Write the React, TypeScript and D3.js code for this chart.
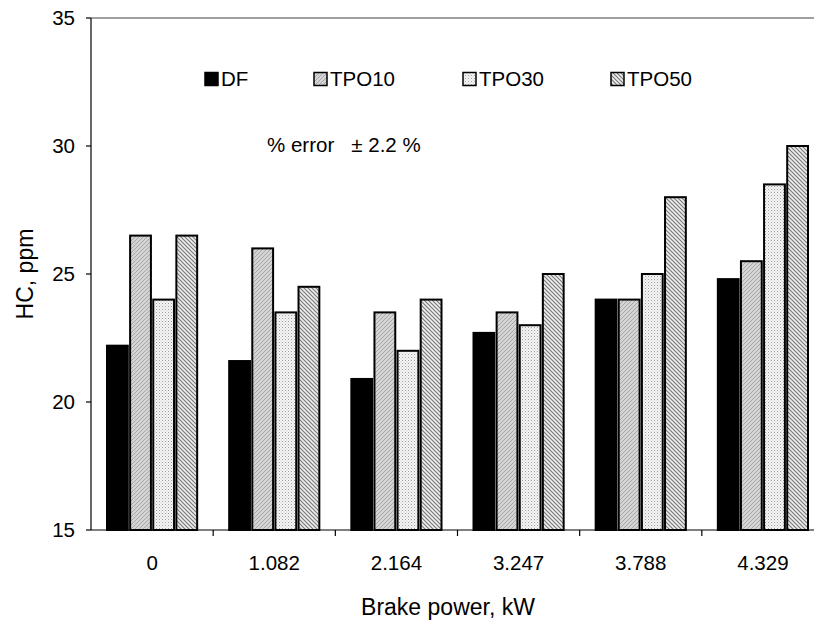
import React from "react";
import * as d3 from "d3";

const categories = ["0", "1.082", "2.164", "3.247", "3.788", "4.329"];
const seriesNames = ["DF", "TPO10", "TPO30", "TPO50"];
const DF = [22.2, 21.6, 20.9, 22.7, 24.0, 24.8];
const TPO10 = [26.5, 26.0, 23.5, 23.5, 24.0, 25.5];
const TPO30 = [24.0, 23.5, 22.0, 23.0, 25.0, 28.5];
const TPO50 = [26.5, 24.5, 24.0, 25.0, 28.0, 30.0];
const yTicks = [15, 20, 25, 30, 35];

const series = [DF, TPO10, TPO30, TPO50];
const fills = ["#000", "url(#pTPO10)", "url(#pTPO30)", "url(#pTPO50)"];

export default function App() {
  const W = 814, H = 623;
  const left = 91, right = 824, top = 18, bottom = 530;
  const x = d3.scaleBand<string>().domain(categories).range([left, right]).padding(0);
  const inner = d3.scaleBand<string>().domain(seriesNames).range([16, x.bandwidth() - 16]).paddingInner(0.1);
  const y = d3.scaleLinear().domain([15, 35]).range([bottom, top]);
  const font = "Arial, 'Liberation Sans', sans-serif";
  const legendX = [205, 314, 463, 611];
  return (
    <svg width={W} height={H} style={{ position: "absolute", left: 0, top: 0 }} fontFamily={font}>
      <defs>
        <pattern id="pTPO10" width="4" height="4" patternUnits="userSpaceOnUse">
          <rect width="4" height="4" fill="#d4d4d4" />
          <path d="M0,4 L4,0 M-1,1 L1,-1 M3,5 L5,3" stroke="#a8a8a8" strokeWidth="1" />
        </pattern>
        <pattern id="pTPO30" width="3" height="3" patternUnits="userSpaceOnUse">
          <rect width="3" height="3" fill="#f4f4f4" />
          <rect x="0" y="0" width="1" height="1" fill="#a0a0a0" />
          <rect x="1.5" y="1.5" width="1" height="1" fill="#c8c8c8" />
        </pattern>
        <pattern id="pTPO50" width="4" height="4" patternUnits="userSpaceOnUse">
          <rect width="4" height="4" fill="#eeeeee" />
          <path d="M0,0 L4,4 M-1,3 L1,5 M3,-1 L5,1" stroke="#7a7a7a" strokeWidth="1.2" />
        </pattern>
      </defs>
      <rect width={W} height={H} fill="#fff" />
      <line x1={left} x2={W} y1={top} y2={top} stroke="#808080" strokeWidth={1.5} />
      {categories.map((c, i) =>
        series.map((s, j) => (
          <rect
            key={c + j}
            x={(x(c) as number) + (inner(seriesNames[j]) as number)}
            y={y(s[i])}
            width={inner.bandwidth()}
            height={bottom - y(s[i])}
            fill={fills[j]}
            stroke="#000"
            strokeWidth={2}
          />
        ))
      )}
      <line x1={left} x2={left} y1={top} y2={bottom} stroke="#000" strokeWidth={1.2} />
      <line x1={left} x2={W} y1={bottom} y2={bottom} stroke="#000" strokeWidth={1.2} />
      {yTicks.map((t) => (
        <g key={t}>
          <line x1={left - 5} x2={left} y1={y(t)} y2={y(t)} stroke="#000" strokeWidth={1.2} />
          <text x={left - 16} y={y(t)} dy="0.35em" textAnchor="end" fontSize={20.5}>{t}</text>
        </g>
      ))}
      {categories.map((c) => (
        <g key={c}>
          <line x1={(x(c) as number) + x.bandwidth()} x2={(x(c) as number) + x.bandwidth()} y1={bottom} y2={bottom + 6} stroke="#000" strokeWidth={1.2} />
          <text x={(x(c) as number) + x.bandwidth() / 2} y={570} textAnchor="middle" fontSize={20.5}>{c}</text>
        </g>
      ))}
      <text x={448} y={615} textAnchor="middle" fontSize={23}>Brake power, kW</text>
      <text transform={`translate(33,${274}) rotate(-90)`} textAnchor="middle" fontSize={23}>HC, ppm</text>
      {seriesNames.map((n, j) => (
        <g key={n}>
          <rect x={legendX[j]} y={72.5} width={13} height={13} fill={fills[j]} stroke="#000" strokeWidth={1.5} />
          <text x={legendX[j] + 16} y={79} dy="0.35em" fontSize={20.5}>{n}</text>
        </g>
      ))}
      <text x={267} y={145} dy="0.35em" fontSize={20.5} xmlSpace="preserve">{"% error   \u00b1 2.2 %"}</text>
    </svg>
  );
}
